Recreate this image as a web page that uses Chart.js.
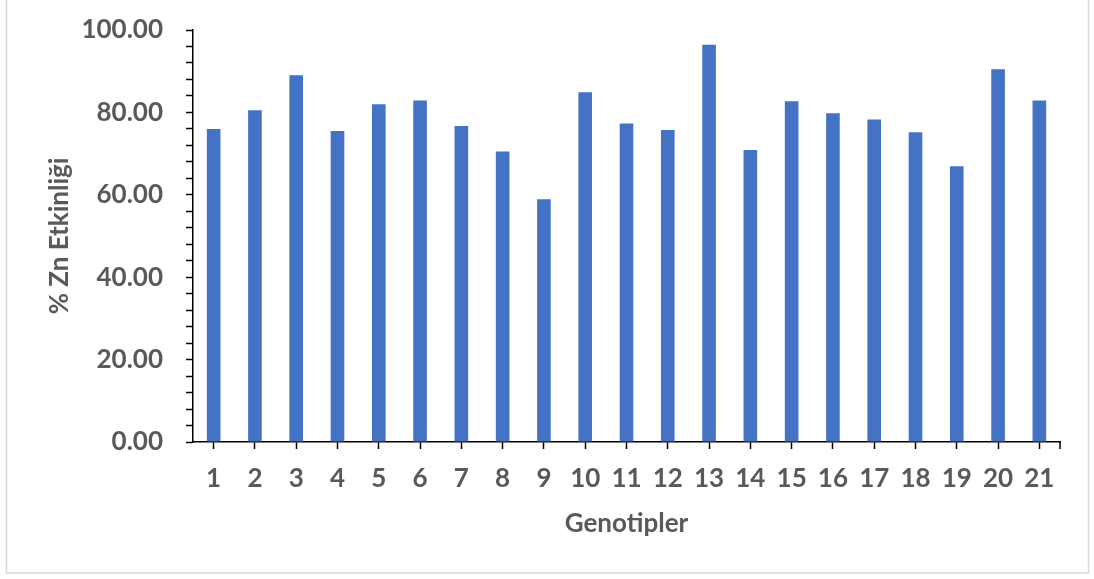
<!DOCTYPE html>
<html>
<head>
<meta charset="utf-8">
<script src="https://cdn.jsdelivr.net/npm/chart.js@4/dist/chart.umd.min.js"></script>
<style>
  html, body { margin: 0; padding: 0; background: #fff; }
  #wrap { width: 1094px; height: 579px; }
</style>
</head>
<body>
<div id="wrap"><canvas id="chart" width="1094" height="579"></canvas></div>
<script>
// genotype numbers on the x axis
const genotypes = ["1","2","3","4","5","6","7","8","9","10","11","12","13","14","15","16","17","18","19","20","21"];
// % Zn efficiency per genotype
const znValues = [76.0, 80.5, 89.0, 75.5, 82.0, 82.9, 76.7, 70.5, 58.9, 84.9, 77.3, 75.7, 96.4, 70.9, 82.7, 79.8, 78.3, 75.2, 66.9, 90.5, 82.9];
const yTitle = "% Zn Etkinliği";
const xTitle = "Genotipler";

const textColor = "#595959";
const fontFamily = "Lato, 'Open Sans', sans-serif";

//frame around the whole chart + closing tick at the right end of the x axis
const framePlugin = {
  id: "frame",
  beforeDraw(chart) {
    const ctx = chart.ctx;
    ctx.save();
    ctx.fillStyle = "#fff";
    ctx.fillRect(0, 0, chart.width, chart.height);
    ctx.strokeStyle = "#d9d9d9";
    ctx.lineWidth = 1.5;
    ctx.strokeRect(6.5, -2, 1082, 575);
    ctx.restore();
  },
  afterDraw(chart) {
    const ctx = chart.ctx;
    const a = chart.chartArea;
    ctx.save();
    ctx.strokeStyle = "#000";
    ctx.lineWidth = 1.5;
    ctx.beginPath();
    ctx.moveTo(a.right, a.bottom);
    ctx.lineTo(a.right, a.bottom + 7);
    ctx.stroke();
    ctx.restore();
  }
};

new Chart(document.getElementById("chart"), {
  type: "bar",
  plugins: [framePlugin],
  data: {
    labels: genotypes,
    datasets: [{
      data: znValues,
      backgroundColor: "#4472C4",
      borderWidth: 0,
      barPercentage: 0.33,
      categoryPercentage: 1.0
    }]
  },
  options: {
    responsive: false,
    animation: false,
    layout: { padding: { left: 0, right: 34, top: 30, bottom: 0 } },
    plugins: {
      legend: { display: false },
      tooltip: { enabled: false }
    },
    scales: {
      x: {
        afterFit: (s) => { s.height = 137; },
        grid: {
          offset: false,
          drawOnChartArea: false,
          drawTicks: true,
          tickLength: 7,
          tickColor: "#000",
          tickWidth: 1.5
        },
        border: { color: "#000", width: 1.5 },
        ticks: {
          autoSkip: false,
          maxRotation: 0,
          padding: 14,
          color: textColor,
          font: { family: fontFamily, size: 26, weight: "bold" }
        },
        title: {
          display: true,
          text: xTitle,
          color: textColor,
          font: { family: fontFamily, size: 26, weight: "bold" },
          padding: { top: 0, bottom: 40 }
        }
      },
      y: {
        min: 0,
        max: 100,
        afterFit: (s) => { s.width = 193; s.paddingTop = 0; s.paddingBottom = 0; },
        grid: {
          drawOnChartArea: false,
          drawTicks: true,
          tickLength: 7,
          tickColor: "#000",
          tickWidth: 1.5
        },
        border: { color: "#000", width: 1.5 },
        ticks: {
          stepSize: 4,
          autoSkip: false,
          padding: 23,
          color: textColor,
          font: { family: fontFamily, size: 26, weight: "bold" },
          callback: (v) => (v % 20 === 0 ? v.toFixed(2) : "")
        },
        title: {
          display: true,
          text: yTitle,
          color: textColor,
          font: { family: fontFamily, size: 26, weight: "bold" },
          padding: { top: 44, bottom: 0 }
        }
      }
    }
  }
});
</script>
</body>
</html>
